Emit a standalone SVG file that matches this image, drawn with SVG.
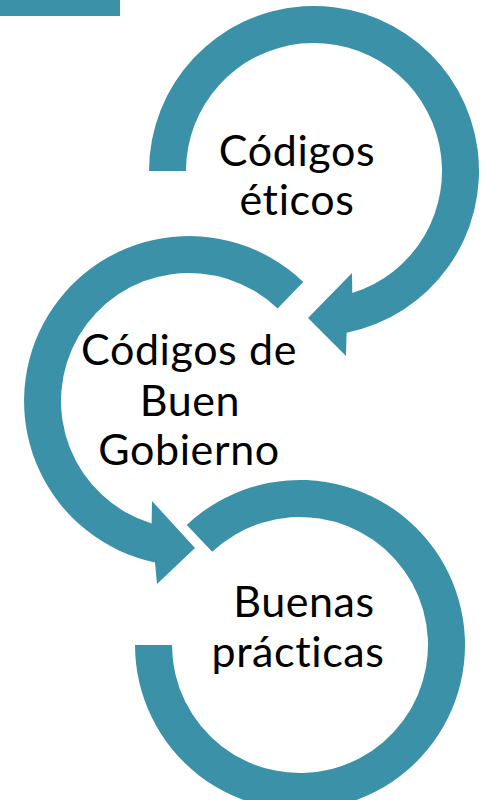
<svg xmlns="http://www.w3.org/2000/svg" width="489" height="800" viewBox="0 0 489 800">
<style>
.ring{fill:#3B92A8;stroke:none}
.lbl{font-family:Lato,"Liberation Sans",sans-serif;font-size:43px;letter-spacing:0.6px;fill:#000;text-anchor:middle}
</style>
<rect width="489" height="800" fill="#fff"/>
<rect id="corner-bar" x="0" y="0" width="120" height="16" class="ring"/>
<g id="node-codigos-eticos">
<path class="ring" d="M149,171 A165,165 0 1 1 346.6,332.7 L346,356 L308,318 L352,273 L352.3,293.1 A128,128 0 1 0 186,171 Z"/>
<text class="lbl" x="297" y="166">Códigos</text>
<text class="lbl" x="297" y="215">éticos</text>
</g>
<g id="node-buen-gobierno">
<path class="ring" d="M303.2,281.9 A165,165 0 1 0 155,562.5 L157,584 L195,548 L152,501 L151.6,523.4 A128,128 0 1 1 277.6,308.6 Z"/>
<text class="lbl" x="189" y="365">Códigos de</text>
<text class="lbl" x="190" y="416">Buen</text>
<text class="lbl" x="189" y="465">Gobierno</text>
</g>
<g id="node-buenas-practicas">
<path class="ring" d="M135,645 A165,165 0 1 0 186.8,524.9 L212.2,551.8 A128,128 0 1 1 172,645 Z"/>
<text class="lbl" x="304" y="617">Buenas</text>
<text class="lbl" x="298" y="667">prácticas</text>
</g>
<g id="connectors"></g>
</svg>
